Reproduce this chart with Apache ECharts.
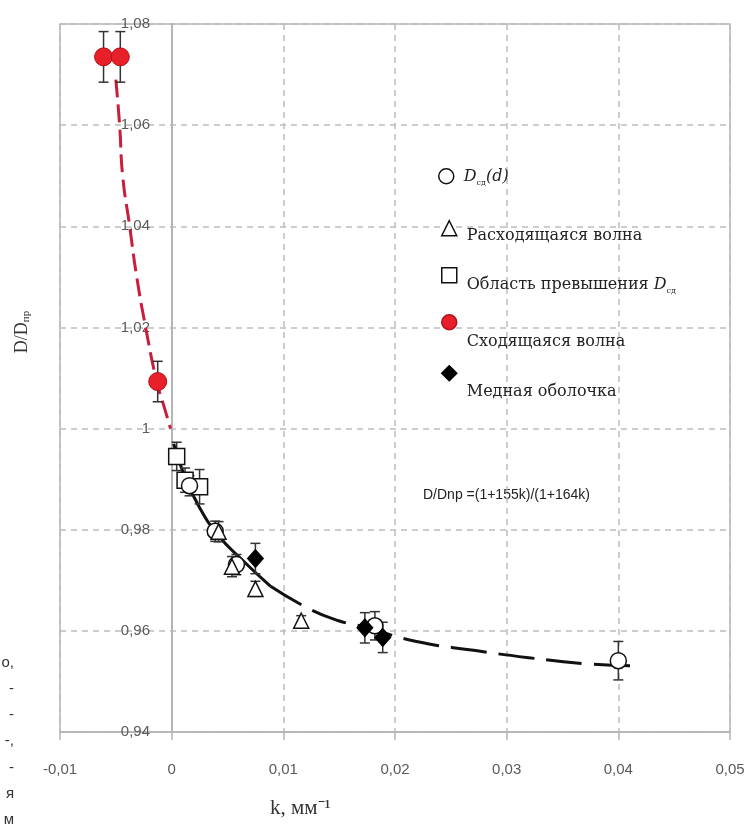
<!DOCTYPE html>
<html>
<head>
<meta charset="utf-8">
<script src="https://cdn.jsdelivr.net/npm/echarts@6/dist/echarts.min.js"></script>
<style>
html, body { margin: 0; padding: 0; background: #fff; }
#chart { width: 756px; height: 827px; }
</style>
</head>
<body>
<div id="chart"></div>
<script>
// подписи осей
var xTickLabels = ['-0,01', '0', '0,01', '0,02', '0,03', '0,04', '0,05'];
var yTickLabels = ['0,94', '0,96', '0,98', '1', '1,02', '1,04', '1,06', '1,08'];

// D_сд(d) - светлые кружки
var circK = [0.0016, 0.0039, 0.0058, 0.0182, 0.0400];
var circY = [0.9887, 0.9797, 0.9731, 0.9610, 0.9541];
var circE = [0.0020, 0.0020, 0.0020, 0.0028, 0.0038];

// расходящаяся волна - треугольники
var triK = [0.0042, 0.0054, 0.0075, 0.0116];
var triY = [0.9796, 0.9727, 0.9683, 0.9620];
var triE = [0.0020, 0.0020, 0.0015, 0.0010];

// область превышения D_сд - квадраты
var sqK = [0.00045, 0.0012, 0.0025];
var sqY = [0.9945, 0.9898, 0.9885];
var sqE = [0.0028, 0.0024, 0.0034];

// сходящаяся волна - красные
var redK = [-0.0061, -0.0046, -0.00125];
var redY = [1.0735, 1.0735, 1.0093];
var redE = [0.0050, 0.0050, 0.0040];

// медная оболочка - ромбы
var cuK = [0.0075, 0.0173, 0.0189];
var cuY = [0.9743, 0.9606, 0.9587];
var cuE = [0.0030, 0.0030, 0.0030];

// кривые
var redCurveK = [-0.0050, -0.00466, -0.00439, -0.00376, -0.00313, -0.00233, -0.00134, -0.0007, -0.0001];
var redCurveY = [1.069, 1.060, 1.050, 1.040, 1.030, 1.020, 1.0093, 1.0045, 1.000];
var blackSolidK = [0.00018, 0.00107, 0.00242, 0.00421, 0.00618, 0.00886];
var blackSolidY = [0.9970, 0.9911, 0.9847, 0.9788, 0.9743, 0.9688];
var blackDashK = [0.00886, 0.01227, 0.01495, 0.01701, 0.02193, 0.02722, 0.03196, 0.03706, 0.04109];
var blackDashY = [0.9688, 0.9644, 0.9620, 0.9609, 0.9579, 0.9561, 0.9547, 0.9535, 0.9531];

var dom = document.getElementById('chart');
var myChart = echarts.init(dom);

function pairs(ks, ys) {
    return ks.map(function (k, i) { return [k, ys[i]]; });
}

function errorBars(ks, ys, es) {
    return {
        type: 'custom',
        silent: true,
        z: 3,
        encode: {x: 0, y: 1},
        renderItem: function (params, api) {
            var x = api.value(0), y = api.value(1), e = api.value(2);
            var top = api.coord([x, y + e]);
            var bot = api.coord([x, y - e]);
            var w = 5;
            var st = {stroke: '#333', lineWidth: 1.5};
            return {
                type: 'group',
                children: [
                    {type: 'line', shape: {x1: top[0], y1: top[1], x2: bot[0], y2: bot[1]}, style: st},
                    {type: 'line', shape: {x1: top[0] - w, y1: top[1], x2: top[0] + w, y2: top[1]}, style: st},
                    {type: 'line', shape: {x1: bot[0] - w, y1: bot[1], x2: bot[0] + w, y2: bot[1]}, style: st}
                ]
            };
        },
        data: ks.map(function (k, i) { return [k, ys[i], es[i]]; })
    };
}

var serif = '"DejaVu Serif", "Liberation Serif", serif';
var legendText = {
    fontFamily: serif,
    fontSize: 16,
    color: '#222',
    rich: {
        i: {fontFamily: serif, fontStyle: 'italic', fontSize: 16, color: '#222'},
        sub: {fontFamily: serif, fontSize: 8, color: '#222', padding: [12, 0, 0, 0]},
        t: {fontFamily: serif, fontSize: 16, color: '#222'}
    }
};

function oneLegend(name, left, top, shift, fmt) {
    var ts = echarts.util.clone(legendText);
    ts.padding = [shift * 2, 0, 0, 5];
    return {
        data: [name],
        left: left,
        top: top,
        orient: 'vertical',
        itemWidth: 15,
        itemHeight: 15,
        itemGap: 0,
        itemStyle: {borderWidth: 1.5},
        textStyle: ts,
        formatter: fmt
    };
}

var option = {
    animation: false,
    backgroundColor: '#fff',
    grid: {
        left: 60, right: 26, top: 24, bottom: 95,
        containLabel: false, outerBoundsMode: 'none',
        show: true, borderColor: '#b5b5b5', borderWidth: 1.5
    },
    xAxis: {
        type: 'value',
        min: -0.01, max: 0.05, interval: 0.01,
        axisLine: {onZero: false, lineStyle: {color: '#b5b5b5', width: 1.5}},
        axisTick: {show: true, length: 8, lineStyle: {color: '#b5b5b5', width: 1.5}},
        axisLabel: {
            margin: 30, fontSize: 15, color: '#5a5a5a', fontFamily: '"Liberation Sans", Arial, sans-serif',
            formatter: function (v) { return xTickLabels[Math.round((v + 0.01) / 0.01)]; }
        },
        splitLine: {lineStyle: {color: '#bdbdbd', type: [6, 5], width: 1.5}}
    },
    yAxis: {
        type: 'value',
        min: 0.94, max: 1.08, interval: 0.02,
        offset: -112,
        axisLine: {onZero: false, lineStyle: {color: '#b5b5b5', width: 2}},
        axisTick: {show: false},
        axisLabel: {
            margin: 22, fontSize: 15, color: '#5a5a5a', fontFamily: '"Liberation Sans", Arial, sans-serif',
            formatter: function (v) { return yTickLabels[Math.round((v - 0.94) / 0.02)]; }
        },
        splitLine: {lineStyle: {color: '#bdbdbd', type: [6, 5], width: 1.5}}
    },
    legend: [
        oneLegend('Dсд(d)', 433, 163, 1, function () { return '{i|D}{sub|сд}{i|(d)}'; }),
        oneLegend('Расходящаяся волна', 436, 215, 8, function (n) { return '{t|' + n + '}'; }),
        oneLegend('Область превышения Dсд', 436, 262, 10, function () { return '{t|Область превышения }{i|D}{sub|сд}'; }),
        oneLegend('Сходящаяся волна', 436, 309, 20, function (n) { return '{t|' + n + '}'; }),
        oneLegend('Медная оболочка', 436, 360, 19, function (n) { return '{t|' + n + '}'; })
    ],
    graphic: [
        {
            type: 'text', x: 22, y: 332, rotation: Math.PI / 2,
            style: {
                text: '{a|D/D}{b|пр}', align: 'center', verticalAlign: 'middle',
                rich: {
                    a: {fontFamily: '"Liberation Serif", serif', fontSize: 18, fill: '#333'},
                    b: {fontFamily: '"Liberation Serif", serif', fontSize: 11, fill: '#333', padding: [8, 0, 0, 0]}
                }
            }
        },
        {type: 'text', left: 423, top: 488, style: {text: 'D/Dnp =(1+155k)/(1+164k)', font: '14px "Liberation Sans", Arial, sans-serif', fill: '#222'}},
        {type: 'text', left: 270, top: 798, style: {text: 'k, мм⁻¹', font: '21px "Liberation Serif", serif', fill: '#333'}},
        {type: 'text', right: 742, top: 655, style: {text: 'о,', font: '15px "Liberation Sans", sans-serif', fill: '#333', align: 'right'}},
        {type: 'text', right: 742, top: 681, style: {text: '-', font: '15px "Liberation Sans", sans-serif', fill: '#333', align: 'right'}},
        {type: 'text', right: 742, top: 707, style: {text: '-', font: '15px "Liberation Sans", sans-serif', fill: '#333', align: 'right'}},
        {type: 'text', right: 742, top: 733, style: {text: '-,', font: '15px "Liberation Sans", sans-serif', fill: '#333', align: 'right'}},
        {type: 'text', right: 742, top: 760, style: {text: '-', font: '15px "Liberation Sans", sans-serif', fill: '#333', align: 'right'}},
        {type: 'text', right: 742, top: 786, style: {text: 'я', font: '15px "Liberation Sans", sans-serif', fill: '#333', align: 'right'}},
        {type: 'text', right: 742, top: 812, style: {text: 'м', font: '15px "Liberation Sans", sans-serif', fill: '#333', align: 'right'}}
    ],
    series: [
        {
            type: 'line', smooth: true, showSymbol: false, silent: true, z: 2,
            lineStyle: {color: '#c81e3c', width: 3, type: [18, 7]},
            data: pairs(redCurveK, redCurveY)
        },
        {
            type: 'line', smooth: true, showSymbol: false, silent: true, z: 2,
            lineStyle: {color: '#111', width: 3},
            data: pairs(blackSolidK, blackSolidY)
        },
        {
            type: 'line', smooth: true, showSymbol: false, silent: true, z: 2,
            lineStyle: {color: '#111', width: 3, type: [36, 12]},
            data: pairs(blackDashK, blackDashY)
        },
        errorBars(circK, circY, circE),
        errorBars(triK, triY, triE),
        errorBars(sqK, sqY, sqE),
        errorBars(redK, redY, redE),
        errorBars(cuK, cuY, cuE),
        {
            name: 'Область превышения Dсд', type: 'scatter', symbol: 'rect', symbolSize: 16, z: 4,
            itemStyle: {color: '#fff', borderColor: '#111', borderWidth: 1.5, opacity: 1},
            data: pairs(sqK, sqY)
        },
        {
            name: 'Dсд(d)', type: 'scatter', symbol: 'circle', symbolSize: 16, z: 4,
            itemStyle: {color: '#fff', borderColor: '#111', borderWidth: 1.5, opacity: 1},
            data: pairs(circK, circY)
        },
        {
            name: 'Расходящаяся волна', type: 'scatter', symbol: 'triangle', symbolSize: [15, 15], z: 5,
            itemStyle: {color: '#fff', borderColor: '#111', borderWidth: 1.5, opacity: 1},
            data: pairs(triK, triY)
        },
        {
            name: 'Сходящаяся волна', type: 'scatter', symbol: 'circle', symbolSize: 18, z: 4,
            itemStyle: {color: '#e8202a', borderColor: '#b0101a', borderWidth: 1, opacity: 1},
            data: pairs(redK, redY)
        },
        {
            name: 'Медная оболочка', type: 'scatter', symbol: 'diamond', symbolSize: [16, 18], z: 5,
            itemStyle: {color: '#000', borderColor: '#000', borderWidth: 1, opacity: 1},
            data: pairs(cuK, cuY)
        }
    ]
};

myChart.setOption(option);
</script>
</body>
</html>
